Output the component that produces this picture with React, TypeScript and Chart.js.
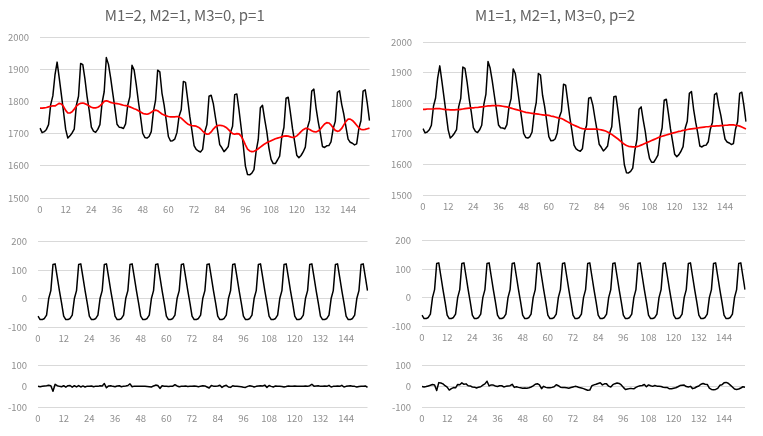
import React, { useEffect, useRef } from "react";
import { Chart, registerables } from "chart.js";

Chart.register(...registerables);

// ---------- data ----------
const categories: string[] = Array.from({ length: 155 }, (_, i) => String(i));
const xLabelEvery = 12;

const titleLeft = "M1=2, M2=1, M3=0, p=1";
const titleRight = "M1=1, M2=1, M3=0, p=2";

const original = [
  1717, 1703, 1706, 1713, 1728, 1790, 1817, 1882, 1922, 1872, 1820, 1767,
  1713, 1686, 1693, 1702, 1714, 1788, 1816, 1918, 1914, 1870, 1815, 1772,
  1720, 1708, 1704, 1713, 1728, 1795, 1830, 1936, 1915, 1874, 1826, 1779,
  1729, 1720, 1719, 1716, 1730, 1788, 1815, 1912, 1897, 1851, 1799, 1752,
  1701, 1688, 1686, 1691, 1706, 1768, 1803, 1897, 1892, 1826, 1789, 1741,
  1691, 1677, 1678, 1683, 1703, 1754, 1774, 1862, 1859, 1807, 1754, 1710,
  1663, 1651, 1646, 1643, 1651, 1705, 1728, 1816, 1819, 1793, 1750, 1710,
  1666, 1656, 1644, 1651, 1660, 1703, 1723, 1821, 1823, 1774, 1719, 1663,
  1599, 1573, 1572, 1577, 1588, 1645, 1681, 1780, 1788, 1745, 1706, 1655,
  1620, 1607, 1607, 1618, 1630, 1690, 1719, 1810, 1813, 1767, 1716, 1675,
  1633, 1625, 1632, 1643, 1658, 1718, 1741, 1832, 1838, 1781, 1738, 1702,
  1660, 1657, 1662, 1663, 1674, 1715, 1738, 1828, 1833, 1791, 1760, 1720,
  1683, 1673, 1670, 1665, 1668, 1715, 1740, 1832, 1836, 1792, 1740,
];

const trendP1 = [
  1779, 1779, 1780, 1781, 1783, 1785, 1786, 1786, 1790, 1794, 1792, 1784,
  1772, 1764, 1764, 1768, 1776, 1785, 1791, 1794, 1795, 1793, 1790, 1786,
  1782, 1780, 1780, 1782, 1786, 1792, 1800, 1802, 1800, 1797, 1795, 1794,
  1793, 1792, 1790, 1788, 1787, 1786, 1783, 1780, 1777, 1775, 1771, 1767,
  1763, 1761, 1760, 1762, 1766, 1771, 1773, 1771, 1766, 1761, 1758, 1755,
  1753, 1752, 1752, 1752, 1753, 1752, 1748, 1742, 1736, 1730, 1727, 1725,
  1724, 1723, 1720, 1715, 1708, 1702, 1698, 1699, 1705, 1714, 1721, 1725,
  1726, 1725, 1723, 1719, 1713, 1706, 1700, 1698, 1700, 1699, 1692, 1680,
  1665, 1652, 1646, 1644, 1645, 1648, 1653, 1658, 1663, 1668, 1672, 1675,
  1678, 1681, 1684, 1686, 1688, 1690, 1692, 1693, 1692, 1690, 1688, 1689,
  1693, 1699, 1706, 1712, 1716, 1716, 1713, 1709, 1706, 1705, 1708, 1714,
  1722, 1730, 1734, 1733, 1727, 1718, 1710, 1707, 1709, 1716, 1727, 1738,
  1745, 1745, 1741, 1734, 1726, 1718, 1713, 1712, 1713, 1715, 1717,
];

const trendP2 = [
  1780, 1780, 1781, 1781, 1781, 1781, 1782, 1782, 1782, 1781, 1780, 1779,
  1779, 1778, 1778, 1778, 1779, 1779, 1780, 1781, 1782, 1783, 1784, 1785,
  1785, 1786, 1786, 1787, 1788, 1789, 1790, 1791, 1791, 1792, 1792, 1792,
  1792, 1791, 1790, 1789, 1788, 1786, 1784, 1782, 1780, 1778, 1776, 1774,
  1772, 1770, 1769, 1768, 1767, 1766, 1765, 1764, 1763, 1762, 1761, 1761,
  1760, 1758, 1757, 1755, 1753, 1751, 1750, 1747, 1743, 1739, 1735, 1731,
  1728, 1725, 1722, 1719, 1717, 1716, 1715, 1715, 1715, 1715, 1715, 1715,
  1714, 1713, 1711, 1709, 1706, 1702, 1698, 1693, 1688, 1683, 1677, 1671,
  1666, 1662, 1659, 1658, 1657, 1657, 1658, 1660, 1663, 1666, 1669, 1672,
  1675, 1678, 1681, 1684, 1687, 1690, 1692, 1694, 1696, 1698, 1700, 1702,
  1704, 1706, 1708, 1709, 1711, 1712, 1714, 1715, 1716, 1717, 1718, 1719,
  1720, 1721, 1722, 1723, 1723, 1724, 1725, 1725, 1726, 1726, 1727, 1727,
  1728, 1728, 1729, 1729, 1729, 1728, 1727, 1725, 1722, 1719, 1716,
];

const seasonal = [
  -62, -74, -74, -70, -58, 0, 28, 120, 122, 75, 28, -15,
  -62, -74, -74, -70, -58, 0, 28, 120, 122, 75, 28, -15,
  -62, -74, -74, -70, -58, 0, 28, 120, 122, 75, 28, -15,
  -62, -74, -74, -70, -58, 0, 28, 120, 122, 75, 28, -15,
  -62, -74, -74, -70, -58, 0, 28, 120, 122, 75, 28, -15,
  -62, -74, -74, -70, -58, 0, 28, 120, 122, 75, 28, -15,
  -62, -74, -74, -70, -58, 0, 28, 120, 122, 75, 28, -15,
  -62, -74, -74, -70, -58, 0, 28, 120, 122, 75, 28, -15,
  -62, -74, -74, -70, -58, 0, 28, 120, 122, 75, 28, -15,
  -62, -74, -74, -70, -58, 0, 28, 120, 122, 75, 28, -15,
  -62, -74, -74, -70, -58, 0, 28, 120, 122, 75, 28, -15,
  -62, -74, -74, -70, -58, 0, 28, 120, 122, 75, 28, -15,
  -62, -74, -74, -70, -58, 0, 28, 120, 122, 75, 28,
];

const residualP1 = [
  0, -2, 0, 2, 3, 5, 3, -24, 10, 3, 0, -2,
  3, -4, 3, 4, -4, 3, -3, 4, -3, 2, -3, 1,
  0, 2, -2, 1, 0, 3, 2, 14, -7, 2, 3, 0,
  -2, 2, 3, -2, 1, 2, 4, 12, -2, 1, 0, 0,
  0, 1, 0, -1, -2, -3, 2, 6, 4, -10, 3, 1,
  0, -1, 0, 1, 8, 2, -2, 0, 1, 2, -1, 0,
  1, 2, 0, -2, 1, 3, 2, -3, -8, 4, 1, 0,
  2, 5, -5, 2, 5, -3, -5, 3, 1, 0, -1, -2,
  -4, -5, 0, 3, 1, -3, 0, 2, 3, 2, 6, -5,
  4, 0, -3, 2, 0, 0, -1, -3, -1, 2, 0, 1,
  2, 0, 0, 1, 0, 2, 0, 3, 10, 1, 2, 3,
  0, 1, 2, 0, 5, -3, 0, 1, 2, 0, 5, -3,
  0, 2, 3, 1, 0, -3, -1, 0, 1, 2, -5,
];

const residualP2 = [
  -1, -3, -1, 2, 5, 9, 7, -20, 18, 16, 12, 3,
  -4, -18, -11, -6, -7, 9, 8, 17, 10, 12, 3, 2,
  -3, -4, -8, -4, -2, 6, 12, 25, 2, 7, 6, 2,
  -1, 3, 3, -3, 0, 2, 3, 10, -5, -2, -5, -7,
  -9, -8, -9, -7, -3, 2, 10, 13, 7, -11, 0, -5,
  -7, -7, -5, -2, 8, 3, -4, -5, -6, -7, -9, -6,
  -3, 0, -2, -6, -8, -11, -15, -19, -18, 3, 7, 10,
  14, 17, 7, 12, 12, 1, -3, 8, 13, 16, 14, 7,
  -5, -15, -13, -11, -11, -12, -5, 0, 3, 4, 9, -2,
  7, 3, 0, 4, 1, 0, -1, -4, -5, -6, -12, -12,
  -9, -7, -2, 4, 5, 6, -1, -3, 0, -11, -8, -2,
  2, 10, 14, 10, 9, -9, -15, -17, -15, -10, 5, 8,
  17, 19, 15, 6, -3, -13, -15, -13, -8, -2, -4,
];

// ---------- styling ----------
const FONT = "'Noto Sans CJK JP', 'Noto Sans', sans-serif";
const TICK_COLOR = "#8f8f8f";
const TITLE_COLOR = "#646464";
const GRID_COLOR = "#d9d9d9";
const BLACK = "#000000";
const RED = "#ff0000";

type Series = { data: number[]; color: string; width: number };

type PanelProps = {
  left: number;
  top: number;
  width: number;
  height: number;
  yAxisWidth: number;
  padTop: number;
  padRight: number;
  yMin: number;
  yMax: number;
  yStep: number;
  series: Series[];
  title?: string;
  titlePadTop?: number;
  titlePadBottom?: number;
};

function Panel(p: PanelProps) {
  const ref = useRef<HTMLCanvasElement | null>(null);
  useEffect(() => {
    if (!ref.current) return;
    const chart = new Chart(ref.current, {
      type: "line",
      data: {
        labels: categories,
        datasets: p.series.map((s) => ({
          data: s.data,
          borderColor: s.color,
          backgroundColor: s.color,
          borderWidth: s.width,
          pointRadius: 0,
          tension: 0,
          fill: false,
          borderJoinStyle: "round" as const,
        })),
      },
      options: {
        animation: false,
        responsive: false,
        maintainAspectRatio: false,
        events: [],
        layout: { padding: { top: p.padTop, right: p.padRight, left: 0, bottom: 0 } },
        plugins: {
          legend: { display: false },
          tooltip: { enabled: false },
          title: p.title
            ? {
                display: true,
                text: p.title,
                color: TITLE_COLOR,
                font: { family: FONT, size: 15, weight: "normal" as const, lineHeight: 1.2 },
                padding: { top: p.titlePadTop ?? 6, bottom: p.titlePadBottom ?? 12 },
              }
            : { display: false },
        },
        scales: {
          x: {
            type: "category",
            offset: false,
            grid: { display: false, drawTicks: false },
            border: { display: false },
            ticks: {
              autoSkip: false,
              maxRotation: 0,
              minRotation: 0,
              padding: 6,
              color: TICK_COLOR,
              font: { family: FONT, size: 9.5 },
              callback: (_v: any, i: number) => (i % xLabelEvery === 0 ? categories[i] : ""),
            },
            afterFit: (s: any) => {
              s.height = 20;
            },
          },
          y: {
            min: p.yMin,
            max: p.yMax,
            grid: { color: GRID_COLOR, drawTicks: false, lineWidth: 1 },
            border: { display: false },
            ticks: {
              stepSize: p.yStep,
              padding: 11,
              color: TICK_COLOR,
              font: { family: FONT, size: 9.5 },
              callback: (v: any) => String(v),
            },
            afterFit: (s: any) => {
              s.width = p.yAxisWidth;
            },
          },
        },
      },
    } as any);
    return () => chart.destroy();
  }, []);
  return (
    <canvas
      ref={ref}
      width={p.width}
      height={p.height}
      style={{ position: "absolute", left: p.left, top: p.top, width: p.width, height: p.height }}
    />
  );
}

export default function App() {
  return (
    <div style={{ position: "absolute", left: 0, top: 0, width: 763, height: 436, background: "#fff" }}>
      {/* left column */}
      <Panel
        left={0} top={0} width={386} height={218}
        yAxisWidth={40} padTop={0} padRight={16.5}
        yMin={1500} yMax={2000} yStep={100}
        title={titleLeft} titlePadTop={6} titlePadBottom={13}
        series={[
          { data: trendP1, color: RED, width: 1.7 },
          { data: original, color: BLACK, width: 1.5 },
        ]}
      />
      <Panel
        left={0} top={225} width={380} height={122}
        yAxisWidth={38} padTop={10} padRight={12.5}
        yMin={-100} yMax={200} yStep={100}
        series={[{ data: seasonal, color: BLACK, width: 1.5 }]}
      />
      <Panel
        left={0} top={349} width={380} height={78}
        yAxisWidth={38} padTop={10} padRight={12.5}
        yMin={-100} yMax={100} yStep={100}
        series={[{ data: residualP1, color: BLACK, width: 1.5 }]}
      />
      {/* right column */}
      <Panel
        left={358} top={0} width={394} height={215}
        yAxisWidth={65} padTop={0} padRight={0}
        yMin={1500} yMax={2000} yStep={100}
        title={titleRight} titlePadTop={6} titlePadBottom={18}
        series={[
          { data: trendP2, color: RED, width: 1.7 },
          { data: original, color: BLACK, width: 1.5 },
        ]}
      />
      <Panel
        left={383} top={224} width={368} height={122}
        yAxisWidth={39} padTop={10} padRight={0}
        yMin={-100} yMax={200} yStep={100}
        series={[{ data: seasonal, color: BLACK, width: 1.5 }]}
      />
      <Panel
        left={383} top={349} width={368} height={78}
        yAxisWidth={39} padTop={10} padRight={0}
        yMin={-100} yMax={100} yStep={100}
        series={[{ data: residualP2, color: BLACK, width: 1.5 }]}
      />
    </div>
  );
}
